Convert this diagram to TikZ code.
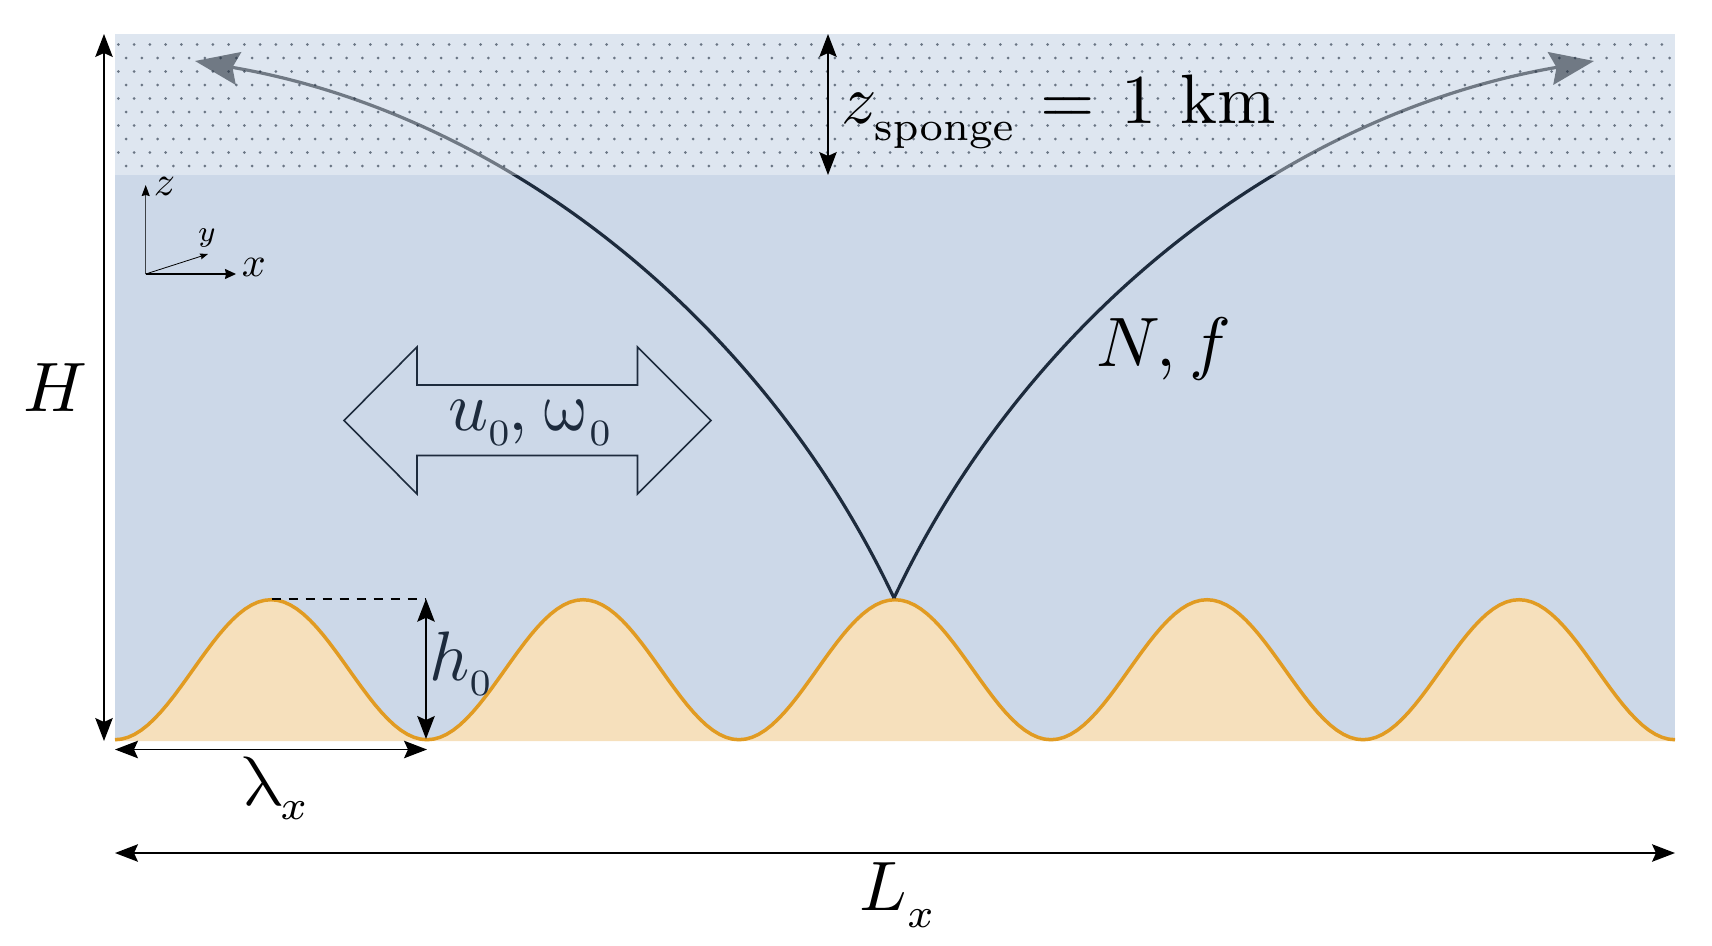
\documentclass[tikz,border=0pt]{standalone}
\usepackage{graphicx}
\usetikzlibrary{arrows.meta}
\definecolor{dombg}{HTML}{CCD8E8}
\definecolor{navy}{HTML}{1D2B3D}
\definecolor{topo}{HTML}{E19B22}
\definecolor{topofill}{HTML}{F6E0BC}
\newcommand{\subsm}[1]{\scalebox{0.84}{$\scriptstyle #1$}}
\newcommand{\subzero}{\scalebox{0.76}{$\scriptstyle 0$}}
\newcommand{\lsub}[1]{_{\raisebox{-0.9pt}{\subsm{#1}}}}
\newcommand{\lsubz}{_{\raisebox{-0.7pt}{\subzero}}}
\tikzset{
  lblbig/.style={scale=7,inner sep=0pt,anchor=base west},
  lblslant/.style={scale=7,inner sep=0pt,anchor=base west,xslant=-0.25},
  lblsmall/.style={scale=4.2,inner sep=0pt,anchor=base west},
  dimline/.style={black,line width=1.5pt,{Stealth[length=23pt,width=17.5pt,inset=4pt]}-{Stealth[length=23pt,width=17.5pt,inset=4pt]},shorten <=0pt,shorten >=0pt},
  rayline/.style={navy,line width=3.2pt,-{Stealth[length=44pt,width=33pt,inset=6pt]}},
  swell/.style={navy,line width=1.6pt,line join=miter},
}
\begin{document}
\begin{tikzpicture}[x=1pt,y=-1pt]
\useasboundingbox (0,0) rectangle (1712,945);
% domain
\fill[dombg] (115,34) rectangle (1675,741);
% topography
\fill[topofill] (115,741) -- plot[domain=0:1560,samples=241] ({115+\x},{669.7+70*cos(1.153846*\x)}) -- (1675,741) -- cycle;
\draw[topo,line width=3.5pt] plot[domain=0:1560,samples=241] ({115+\x},{669.7+70*cos(1.153846*\x)});
% rays
\coordinate (source) at (894,598);
\coordinate (tipL) at (195,61);
\coordinate (tipR) at (1594,61);
\draw[rayline] (source) .. controls (763,320) and (505,114) .. (tipL);
\draw[rayline] (source) .. controls (1025,320) and (1283,114) .. (tipR);
% sponge
\fill[white,opacity=0.37] (115,34) rectangle (1675,175);
\fill[navy,opacity=0.6]
  \foreach \r in {0,2,4,6,8} { \foreach \c in {0,...,98} { ({118.3+15.75*\c},{44.5+13.5*\r}) circle (1.5) } }
  \foreach \r in {1,3,5,7,9} { \foreach \c in {0,...,98} { ({126.2+15.75*\c},{44.5+13.5*\r}) circle (1.5) } };
% dimension arrows
\coordinate (Htop) at (104,34);
\coordinate (Hbot) at (104,741);
\draw[dimline,line width=1.2pt] (Htop) -- (Hbot);
\coordinate (Stop) at (828,34);
\coordinate (Sbot) at (828,175);
\draw[dimline,line width=1.2pt] (Stop) -- (Sbot);
\coordinate (Ll) at (115,749.5);
\coordinate (Lr) at (427,749.5);
\draw[dimline] (Ll) -- (Lr);
\coordinate (LLl) at (115,853);
\coordinate (LLr) at (1675,853);
\draw[dimline] (LLl) -- (LLr);
\coordinate (htop) at (426,598.7);
\coordinate (hbot) at (426,739);
\draw[dimline] (htop) -- (hbot);
\coordinate (peak) at (271.5,598.7);
\draw[black,line width=1.7pt,dash pattern=on 9pt off 8pt] (peak) -- (htop);
% forcing arrow
\draw[swell] (344,420.5) -- (417,347) -- (417,385) -- (637.5,385) -- (637.5,347) -- (711,420.5) -- (637.5,494) -- (637.5,455.5) -- (417,455.5) -- (417,494) -- cycle;
% axes
\coordinate (O) at (145.7,274);
\coordinate (Az) at (145.7,185);
\coordinate (Ax) at (236,274);
\coordinate (Ay) at (208,254);
\draw[black!70!dombg,line width=1pt,-{Stealth[length=11pt,width=8pt,inset=1pt,black]}] (O) -- (Az);
\draw[black,line width=1.3pt,-{Stealth[length=11pt,width=10pt,inset=1pt]}] (O) -- (Ax);
\draw[black,line width=.8pt,-{Stealth[length=8pt,width=6pt,inset=1pt]}] (O) -- (Ay);
% labels
\node[lblbig] (lH) at (22,411.7) {$H$};
\node[lblbig] (lS) at (840,123.5) {$z\lsub{\mathrm{sponge}} \mskip1mu= \mskip2mu 1~\mathrm{km}$};
\node[lblbig] (lN) at (1095,366.7) {$N,\mskip0.5mu f$};
\node[lblbig,text=navy] (lU) at (447,430) {$u\lsubz\mskip-1.3mu,$};
\node[lblslant,text=navy] (lW) at (546,430) {$\omega$};
\node[lblbig,text=navy] (lWs) at (588,445) {\subzero};
\node[lblbig,text=navy] (lh) at (428,680) {$h\lsubz$};
\node[lblslant] (lL) at (242,805) {$\lambda$};
\node[lblbig] (lLs) at (279,819) {\subsm{x}};
\node[lblbig] (lLx) at (858,910.7) {$L\lsub{x}$};
\node[lblsmall] (az) at (153,195) {$z$};
\node[lblsmall] (ax) at (241,276) {$x$};
\node[lblsmall] (ay) at (197,241.7) {$\scriptstyle y$};
\end{tikzpicture}
\end{document}
